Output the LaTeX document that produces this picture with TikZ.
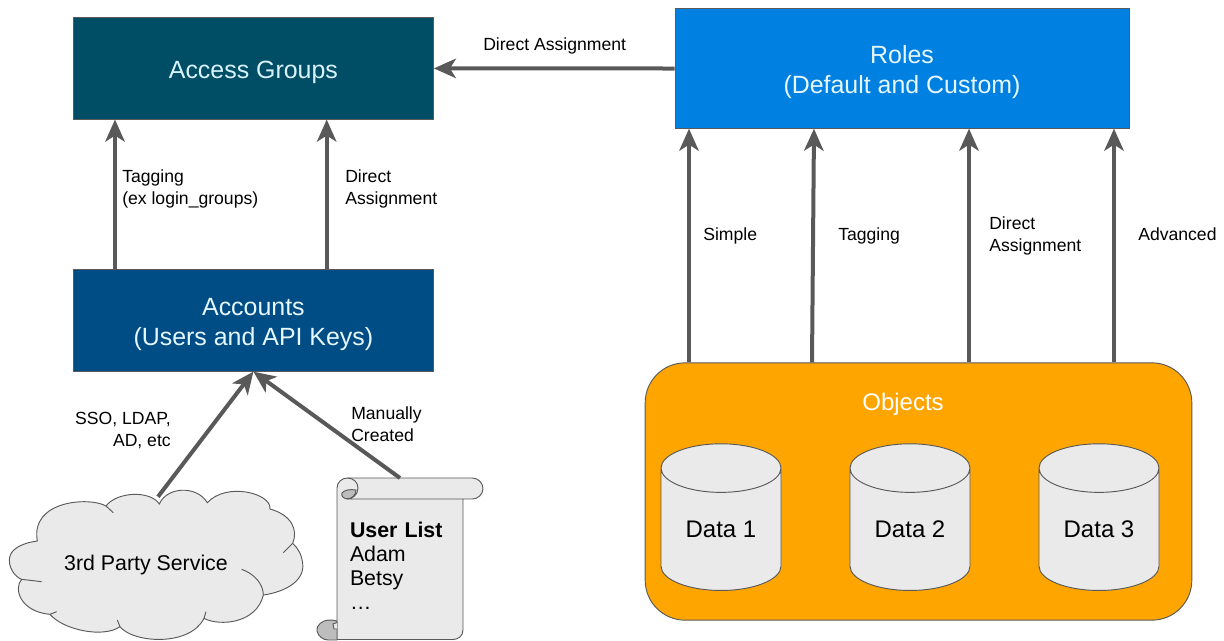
\documentclass[tikz,border=0pt]{standalone}
\usepackage{fontspec}
\setmainfont{Liberation Sans}
\usepackage{tikz}
\usetikzlibrary{shapes.geometric,arrows.meta,positioning}
\definecolor{accessblue}{HTML}{004D66}
\definecolor{accountblue}{HTML}{004C85}
\definecolor{roleblue}{HTML}{0080E0}
\definecolor{objectorange}{HTML}{FFA500}
\definecolor{shapegray}{HTML}{EAEAEA}
\definecolor{curlgray}{HTML}{BDBDBD}
\definecolor{linegray}{HTML}{595959}
\newcommand{\boxlift}{\rule{0pt}{19.5pt}}
\tikzset
{
    bigbox/.style    = {rectangle, draw=linegray, line width=0.7pt, align=center, minimum width=270pt, minimum height=76pt, font=\fontsize{18.7}{22.5}\selectfont},
    objectbox/.style = {rectangle, rounded corners=30pt, draw=linegray, line width=0.7pt, fill=objectorange, minimum width=410pt, minimum height=193pt},
    datacyl/.style   = {cylinder, shape border rotate=90, aspect=0.687, draw=linegray, line width=0.7pt, cylinder uses custom fill, cylinder body fill=shapegray, cylinder end fill=shapegray, minimum width=90pt, minimum height=110pt, inner sep=0pt, font=\fontsize{18}{21}\selectfont},
    flowlabel/.style = {align=left, inner sep=0pt, font=\fontsize{13.2}{16.5}\selectfont},
    outline/.style   = {draw=linegray, line width=0.7pt, fill=shapegray},
    thinline/.style  = {draw=linegray, line width=0.7pt},
    flow/.style      = {draw=linegray, line width=3pt, -{Stealth[length=16.5pt, width=14.5pt, inset=4.5pt]}}
}
\begin{document}
\begin{tikzpicture}
	[x=0.75pt, y=-0.75pt]
	\useasboundingbox (0,0) rectangle (1224,640);
	\node[bigbox, fill=accessblue, text=white!85!cyan] (access) at (253.4,68.4) {\boxlift Access Groups};
	\node[bigbox, fill=accountblue, text=white!90!cyan] (accounts) at (253.4,320.5) {\boxlift Accounts\\(Users and API Keys)};
	\node[bigbox, fill=roleblue, text=white!90!cyan, minimum width=340.5pt, minimum height=89.5pt] (roles) at (902,68.5) {\boxlift Roles\\(Default and Custom)};
	\node[objectbox] (objects) at (918.5,491.5) {};
	\node[font=\fontsize{18}{21}\selectfont, text=white] (objectstitle) at (903,404) {Objects};
	\node[datacyl] (data1) at (721,529.5) {Data 1};
	\node[datacyl] (data2) at (910,529.5) {Data 2};
	\node[datacyl] (data3) at (1099,529.5) {Data 3};
	% cloud outline, in units of a third of a pixel
	\begin{scope}[shift={(0,480)}, x=0.25pt, y=-0.25pt]
		\path[outline] (112,183) .. controls (60,190) and (28,210) .. (28,240) .. controls (28,275) and (55,295) .. (65,298)
			.. controls (40,325) and (60,395) .. (150,403) .. controls (190,450) and (310,475) .. (360,440)
			.. controls (400,490) and (570,500) .. (612,415) .. controls (660,440) and (770,430) .. (790,345)
			.. controls (860,335) and (915,300) .. (908,250) .. controls (905,225) and (895,205) .. (878,190)
			.. controls (895,150) and (875,105) .. (810,87) .. controls (815,40) and (680,5) .. (622,68)
			.. controls (590,15) and (500,20) .. (478,72) .. controls (450,30) and (350,35) .. (318,78)
			.. controls (270,50) and (90,60) .. (112,183) -- cycle;
		\draw[thinline] (65,298) -- (125,305);
		\draw[thinline] (318,78) -- (340,98);
		\draw[thinline] (790,345) .. controls (790,310) and (760,280) .. (725,268);
		\draw[thinline] (878,190) -- (850,218);
		\draw[thinline] (360,440) -- (352,420);
		\draw[thinline] (612,415) -- (618,395);
		\draw[thinline] (150,403) -- (170,395);
	\end{scope}
	\node[minimum height=101.25pt, inner sep=0pt, font=\fontsize{16}{18}\selectfont] (service) at (146,564.5) {3rd Party Service};
	% scroll
	\path[outline] (337,639.5) -- (337,488) .. controls (337,482) and (342,478) .. (347.5,478) -- (472.5,478) .. controls (478,478) and (483,483) .. (483,488.5) .. controls (483,494) and (478,499) .. (472.5,499) -- (463,499) -- (463,630) .. controls (463,636) and (458,639.5) .. (453,639.5) -- cycle;
	\path[thinline, fill=curlgray] (347,499) .. controls (343,498) and (341,496) .. (342,493) .. controls (344,490) and (350,489) .. (356,490) .. controls (356,495) and (352,499) .. (347,499) -- cycle;
	\draw[thinline] (347.5,478) .. controls (354,478) and (358,483) .. (358,488) .. controls (358,495) and (352,499) .. (347,499) -- (463,499);
	\path[thinline, fill=curlgray] (337,621) .. controls (324,617) and (316,625) .. (317,631) .. controls (318,636) and (323,640) .. (328,640) -- (337,640) -- cycle;
	\path[thinline, fill=shapegray] (337,622.5) -- (333,624) -- (334,629) -- (337,629);
	\node[anchor=north, text width=75pt, inner xsep=0pt, inner ysep=0pt, minimum height=130.5pt, align=left, font=\fontsize{16}{18}\selectfont] (userlist) at (400,478) {\textbf{User List}\\Adam\\Betsy\\\dots};
	% connectors
	\draw[flow] (roles.west) -- (access.east);
	\foreach \off in {-138.4,73.3}
		\draw[flow] ([xshift=\off*0.75pt]accounts.north) -- ([xshift=\off*0.75pt]access.south);
	\foreach \from/\to in {-229.5/-213,-106.5/-88,50.5/67,195.5/212}
		\draw[flow] ([xshift=\from*0.75pt]objects.north) -- ([xshift=\to*0.75pt]roles.south);
	\draw[flow] ([xshift=9pt]service.north) -- (accounts.south);
	\draw[flow] (userlist.north) -- (accounts.south);
	% labels
	\node[flowlabel, anchor=west] (directtop) at (483,46) {Direct Assignment};
	\node[flowlabel, anchor=west] (tagtext) at (122,189) {Tagging\\(ex login\_groups)};
	\node[flowlabel, anchor=west] (directleft) at (345,189) {Direct\\Assignment};
	\node[flowlabel, anchor=west] (simple) at (703,236) {Simple};
	\node[flowlabel, anchor=west] (tagright) at (838,236) {Tagging};
	\node[flowlabel, anchor=west] (directright) at (989,236) {Direct\\Assignment};
	\node[flowlabel, anchor=west] (advanced) at (1138,234) {Advanced};
	\node[flowlabel, align=right, anchor=east] (sso) at (171,430) {SSO, LDAP,\\AD, etc};
	\node[flowlabel, anchor=west] (manual) at (351,424) {Manually\\Created};
\end{tikzpicture}
\end{document}
